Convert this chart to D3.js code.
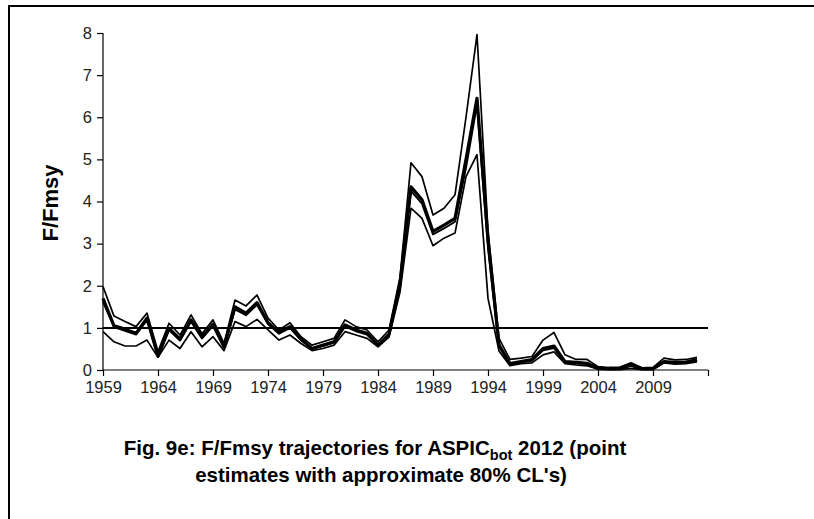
<!DOCTYPE html>
<html>
<head>
<meta charset="utf-8">
<script src="https://cdn.jsdelivr.net/npm/d3@7"></script>
<style>
  body { margin: 0; background: #fff; }
  svg { display: block; font-family: "Liberation Sans", Arial, sans-serif; }
</style>
</head>
<body>
<div id="chart"></div>
<script>
// years on the category axis
const years = d3.range(1959, 2014);

// F/Fmsy series
const upperCL = [1.98, 1.28, 1.15, 1.03, 1.35, 0.44, 1.11, 0.83, 1.31, 0.86, 1.19, 0.63, 1.66, 1.52, 1.78, 1.23, 0.95, 1.12, 0.79, 0.59,
  0.67, 0.75, 1.19, 1.03, 0.95, 0.67, 0.95, 2.2, 4.92, 4.59, 3.68, 3.84, 4.16, 6.0, 7.96, 3.3, 0.75, 0.25, 0.28, 0.32,
  0.71, 0.89, 0.36, 0.25, 0.25, 0.08, 0.06, 0.07, 0.17, 0.05, 0.06, 0.28, 0.24, 0.25, 0.30];
const pointEst = [1.70, 1.05, 0.97, 0.87, 1.23, 0.33, 0.99, 0.73, 1.19, 0.78, 1.09, 0.55, 1.50, 1.35, 1.60, 1.12, 0.89, 1.03, 0.73, 0.51,
  0.59, 0.67, 1.07, 0.95, 0.87, 0.59, 0.85, 2.05, 4.35, 4.04, 3.29, 3.44, 3.60, 5.0, 6.45, 3.1, 0.6, 0.15, 0.2, 0.25,
  0.51, 0.57, 0.2, 0.18, 0.16, 0.04, 0.03, 0.04, 0.12, 0.03, 0.03, 0.2, 0.18, 0.19, 0.25];
const medianEst = [1.62, 1.02, 0.93, 0.84, 1.18, 0.32, 0.95, 0.70, 1.15, 0.75, 1.05, 0.53, 1.44, 1.30, 1.55, 1.09, 0.86, 1.00, 0.71, 0.50,
  0.57, 0.65, 1.03, 0.92, 0.84, 0.58, 0.83, 1.98, 4.25, 3.95, 3.22, 3.36, 3.52, 4.8, 6.3, 2.9, 0.55, 0.14, 0.18, 0.22,
  0.47, 0.52, 0.18, 0.16, 0.14, 0.03, 0.02, 0.03, 0.1, 0.02, 0.02, 0.18, 0.16, 0.17, 0.22];
const lowerCL = [0.91, 0.67, 0.57, 0.57, 0.71, 0.30, 0.71, 0.51, 0.91, 0.55, 0.79, 0.46, 1.15, 1.03, 1.20, 0.95, 0.71, 0.83, 0.63, 0.46,
  0.51, 0.59, 0.91, 0.83, 0.75, 0.55, 0.78, 1.85, 3.84, 3.60, 2.95, 3.13, 3.25, 4.59, 5.11, 1.7, 0.45, 0.1, 0.15, 0.17,
  0.36, 0.43, 0.15, 0.12, 0.1, 0.02, 0.01, 0.01, 0.04, 0.01, 0.01, 0.17, 0.14, 0.15, 0.19];

const xTickYears = [1959, 1964, 1969, 1974, 1979, 1984, 1989, 1994, 1999, 2004, 2009, 2014];
const yTicks = [0, 1, 2, 3, 4, 5, 6, 7, 8];
const refLevel = 1;

const W = 814, H = 519;
const svg = d3.select("#chart").append("svg")
    .attr("width", W)
    .attr("height", H);

// outer frame
svg.append("rect")
    .attr("x", 9).attr("y", 6)
    .attr("width", W + 20).attr("height", H + 20)
    .attr("fill", "none")
    .attr("stroke", "#000")
    .attr("stroke-width", 2);

const x = d3.scaleLinear().domain([1959, 2014]).range([103, 708]);
const y = d3.scaleLinear().domain([0, 8]).range([370, 33]);

// axes
const xAxis = d3.axisBottom(x)
    .tickValues(xTickYears)
    .tickSize(6)
    .tickFormat(d => d === 2014 ? "" : d);
const yAxis = d3.axisLeft(y)
    .tickValues(yTicks)
    .tickSize(6)
    .tickFormat(d3.format("d"));

const gx = svg.append("g")
    .attr("transform", "translate(0," + y(0) + ")")
    .call(xAxis);
const gy = svg.append("g")
    .attr("transform", "translate(" + x(1959) + ",0)")
    .call(yAxis);

[gx, gy].forEach(g => {
    g.selectAll("path, line").attr("stroke", "#000").attr("stroke-width", 1.2);
    g.selectAll("text")
        .attr("fill", "#222")
        .style("font-size", "16.5px")
        .style("font-family", "'Liberation Sans', Arial, sans-serif");
});
gx.select(".domain").attr("d", "M" + x(1959) + ",0H" + x(2014));
gy.select(".domain").attr("d", "M0," + y(0) + "V" + y(8));
gx.selectAll("text").attr("dy", "0.95em").attr("y", 7);
gy.selectAll("text").attr("x", -11);

// y axis title
svg.append("text")
    .attr("transform", "translate(58,203) rotate(-90)")
    .attr("text-anchor", "middle")
    .style("font-size", "22px")
    .style("font-weight", "bold")
    .attr("fill", "#000")
    .text("F/Fmsy");

// reference line at F/Fmsy = 1
svg.append("line")
    .attr("x1", x(1959)).attr("x2", x(2014))
    .attr("y1", y(refLevel)).attr("y2", y(refLevel))
    .attr("stroke", "#000")
    .attr("stroke-width", 2);

const line = d3.line()
    .x((d, i) => x(years[i]))
    .y(d => y(d));

const series = [
    {vals: lowerCL, w: 1.7},
    {vals: upperCL, w: 1.7},
    {vals: medianEst, w: 1.9},
    {vals: pointEst, w: 3.2}
];

svg.selectAll(".trend")
    .data(series)
    .enter().append("path")
    .attr("class", "trend")
    .attr("d", d => line(d.vals))
    .attr("fill", "none")
    .attr("stroke", "#000")
    .attr("stroke-width", d => d.w)
    .attr("stroke-linejoin", "round");

// caption
const cap = svg.append("text")
    .attr("text-anchor", "middle")
    .style("font-size", "20.5px")
    .style("font-weight", "bold")
    .attr("fill", "#000");
const l1 = cap.append("tspan").attr("x", 375).attr("y", 455);
l1.append("tspan").text("Fig. 9e: F/Fmsy trajectories for ASPIC");
l1.append("tspan").text("bot").attr("dy", 5).style("font-size", "14.5px");
l1.append("tspan").text(" 2012 (point").attr("dy", -5);
cap.append("tspan").attr("x", 381).attr("y", 482)
    .text("estimates with approximate 80% CL's)");
</script>
</body>
</html>
